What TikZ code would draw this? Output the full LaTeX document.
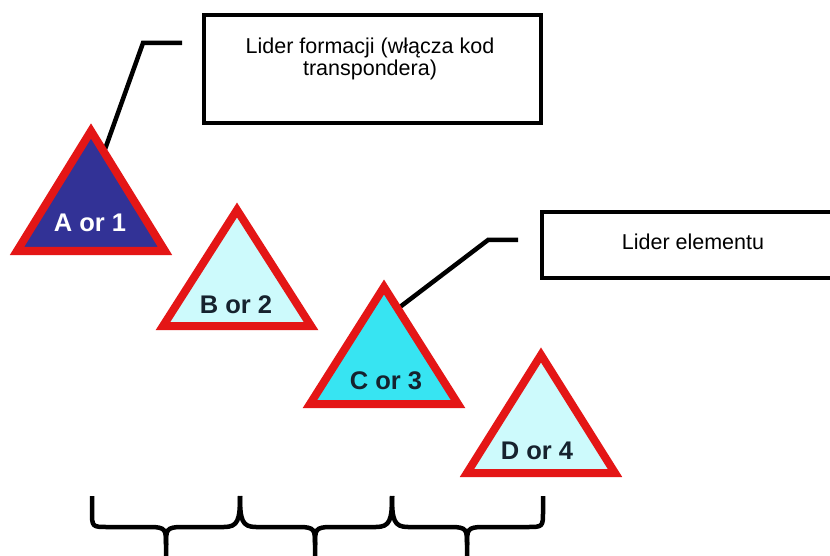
\documentclass[tikz,border=0pt]{standalone}
\usepackage{fontspec}
\setmainfont{Liberation Sans}
\definecolor{redc}{RGB}{228,22,22}
\definecolor{navyc}{RGB}{50,50,150}
\definecolor{paleC}{RGB}{205,250,252}
\definecolor{cyanc}{RGB}{55,228,242}
\definecolor{darktxt}{RGB}{22,34,46}
\tikzset{
  tri/.style={draw=redc, line width=8pt, line join=miter},
  trilabel/.style={font=\fontsize{25.5}{27}\selectfont\bfseries, inner sep=0pt, anchor=base},
  callout/.style={draw=black, line width=4pt, fill=white, inner sep=0pt},
  calltext/.style={font=\fontsize{21.5}{22.5}\selectfont, inner sep=0pt, align=center},
  leader/.style={draw=black, line width=4.5pt, line join=miter},
  bracestyle/.style={draw=black, line width=4.5pt, line cap=butt}
}
\begin{document}
\begin{tikzpicture}[x=1pt,y=-1pt]
\path[use as bounding box] (0,0) rectangle (830,556);
\clip (0,0) rectangle (830,556);
\fill[white] (0,0) rectangle (830,556);

% callout boxes
\node[callout, minimum width=337pt, minimum height=108pt] (box1) at (372.5,69.5) {};
\node[calltext, anchor=north] (txt1) at (370,37.5) {Lider formacji (włącza kod\\transpondera)};
\node[callout, minimum width=304pt, minimum height=66pt] (box2) at (694,245) {};
\node[calltext, anchor=base] (txt2) at (693,250) {Lider elementu};

% leader lines
\coordinate (a1) at (182,43);
\coordinate (a2) at (143,43);
\coordinate (aend) at (104,152);
\draw[leader] (a1) -- (a2) -- (aend);
\coordinate (c1) at (518,240);
\coordinate (c2) at (488,240);
\coordinate (cend) at (396,310);
\draw[leader] (c1) -- (c2) -- (cend);

% triangles
\coordinate (Atop) at (91,131);   \coordinate (Al) at (17,251);  \coordinate (Ar) at (165,251);
\coordinate (Btop) at (237,210);  \coordinate (Bl) at (163,326); \coordinate (Br) at (311,326);
\coordinate (Ctop) at (384,287);  \coordinate (Cl) at (310,404); \coordinate (Cr) at (458,404);
\coordinate (Dtop) at (541,355);  \coordinate (Dl) at (467,473); \coordinate (Dr) at (615,473);
\draw[tri, fill=navyc] (Atop) -- (Ar) -- (Al) -- cycle;
\draw[tri, fill=paleC] (Btop) -- (Br) -- (Bl) -- cycle;
\draw[tri, fill=cyanc] (Ctop) -- (Cr) -- (Cl) -- cycle;
\draw[tri, fill=paleC] (Dtop) -- (Dr) -- (Dl) -- cycle;

\node[trilabel, text=white] (la) at (90,232) {A or 1};
\node[trilabel, text=darktxt] (lb) at (236,313) {B or 2};
\node[trilabel, text=darktxt] (lc) at (386,389) {C or 3};
\node[trilabel, text=darktxt] (ld) at (537,459) {D or 4};

% braces
\coordinate (b0) at (92,496);
\coordinate (b1) at (240,496);
\coordinate (b2) at (392,496);
\coordinate (b3) at (543,496);
\draw[bracestyle] (b0) -- (92,511) .. controls (92,527) and (92,527) .. (108,527)
  -- (150,527) .. controls (166,527) and (166,530) .. (166,545) -- (166,570);
\draw[bracestyle] (166,545) .. controls (166,530) and (166,527) .. (182,527)
  -- (224,527) .. controls (238,527) and (240,520) .. (b1);
\draw[bracestyle] (b1) .. controls (240,520) and (242,527) .. (256,527)
  -- (299,527) .. controls (315,527) and (315,530) .. (315,545) -- (315,570);
\draw[bracestyle] (315,545) .. controls (315,530) and (315,527) .. (331,527)
  -- (376,527) .. controls (390,527) and (392,520) .. (b2);
\draw[bracestyle] (b2) .. controls (392,520) and (394,527) .. (408,527)
  -- (451,527) .. controls (467,527) and (467,530) .. (467,545) -- (467,570);
\draw[bracestyle] (467,545) .. controls (467,530) and (467,527) .. (483,527)
  -- (527,527) .. controls (543,527) and (543,527) .. (543,511) -- (b3);
\end{tikzpicture}
\end{document}
